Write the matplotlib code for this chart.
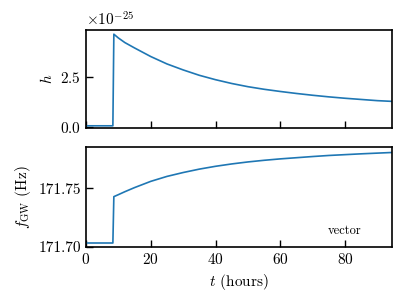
import numpy as np
import matplotlib
matplotlib.use("Agg")
import matplotlib.pyplot as plt

plt.rcParams["font.family"] = "serif"
plt.rcParams["font.serif"] = ["cmr10", "DejaVu Serif"]
plt.rcParams["mathtext.fontset"] = "cm"
plt.rcParams["axes.formatter.use_mathtext"] = True
plt.rcParams["axes.unicode_minus"] = False
plt.rcParams["font.size"] = 11

# time in hours
t = [0, 8.3, 8.6, 10, 12, 15, 20, 25, 30, 35, 40, 45, 50, 55, 60, 65, 70, 75, 80, 85, 90, 95]
# strain amplitude (units of 1e-25)
h = [0.05, 0.05, 4.64, 4.45, 4.22, 3.95, 3.52, 3.15, 2.85, 2.58, 2.36, 2.17, 2.01, 1.88,
     1.77, 1.67, 1.58, 1.50, 1.43, 1.37, 1.31, 1.27]
# GW frequency (Hz)
f_gw = [171.7034, 171.7034, 171.7428, 171.7445, 171.7470, 171.7505, 171.7558, 171.7600,
        171.7633, 171.7662, 171.7686, 171.7706, 171.7723, 171.7737, 171.7749, 171.7759,
        171.7769, 171.7778, 171.7785, 171.7792, 171.7798, 171.7804]

fig = plt.figure(figsize=(4.07, 3.05), dpi=100)
ax1 = fig.add_axes([86/407, 1-128/305, 306/407, 98/305])
ax2 = fig.add_axes([86/407, 1-247/305, 306/407, 100/305], sharex=ax1)

ax1.plot(t, np.array(h) * 1e-25, color="#1f77b4", lw=1.2)
ax2.plot(t, f_gw, color="#1f77b4", lw=1.2)

ax1.set_xlim(0, 94.5)
ax1.set_ylim(-0.06e-25, 4.85e-25)
ax1.set_yticks([0, 2.5e-25])
ax2.set_ylim(171.70, 171.785)
ax2.set_yticks([171.70, 171.75])
ax2.set_yticklabels(["171.70", "171.75"])
ax1.set_xticks([0, 20, 40, 60, 80])

for ax in (ax1, ax2):
    ax.tick_params(direction="in", length=5, width=1, labelsize=11)
    for s in ax.spines.values():
        s.set_linewidth(1.2)
ax1.tick_params(labelbottom=False)

ax1.set_ylabel("$h$")
ax2.set_ylabel(r"$f_{\rm GW}$ (Hz)")
ax2.set_xlabel("$t$ (hours)")
ax2.text(0.846, 0.16, "vector", transform=ax2.transAxes, ha="center", va="center", fontsize=9)

fig.savefig("out.png", dpi=100)
